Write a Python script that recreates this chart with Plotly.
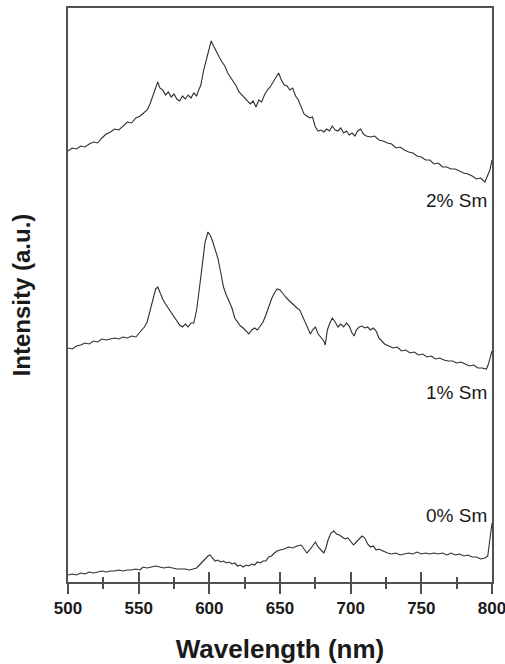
import plotly.graph_objects as go

# ---- data ----
wl_2 = [500,503,506,509,512,515,518,521,524,527,530,533,536,539,542,545,548,551,554,556,558,560,562,563.5,565,567,569,571,573,575,577,579,581,583,585,587,589,591,592.5,594,596,598,600,601.3,603,605,607,609,611,613,615,617,619,621,623,625,627,629,631,633,635,637,639,641,643,645,647,649,651,653,655,657,659,661,663,665,667,669,671,673,675,677,679,681,683,685,687,689,691,693,695,697,699,701,703,705,707,709,711,714,717,720,723,726,729,732,735,738,741,744,747,750,753,756,759,762,765,768,771,774,777,780,783,786,789,792,795,797,798.5,800]
int_2 = [431,434,433,436,435,438,440,439,444,448,450,453,452,456,460,459,464,466,470,472,478,486,496,500,494,492,487,490,485,488,483,481,486,483,487,484,489,486,492,497,512,524,534,541,536,530,525,520,516,509,505,500,496,490,487,484,480,478,481,475,482,480,487,492,495,500,504,509,502,497,496,492,494,486,482,474,468,466,464,465,455,451,452,450,453,451,456,452,451,454,449,451,447,449,446,451,453,448,446,445,446,442,441,439,438,434,435,432,430,429,426,425,422,422,418,419,415,415,413,413,411,409,408,406,403,404,400,406,412,422]

wl_1 = [500,503,506,509,512,515,518,521,524,527,530,533,536,539,542,545,548,550,552,554,556,558,560,562,563.5,565,567,569,571,573,575,577,579,581,583,585,587,589,591,593,595,597,599,600.5,602,604,606,608,610,612,614,616,618,620,622,624,626,628,630,632,634,636,638,640,642,644,646,648,650,652,654,656,658,660,662,664,666,668,670,671.5,673,675,677,679,681,682,683.5,685,687,689,691,693,695,697,699,701,702.5,704,706,708,710,712,714,716,718,720,722,724,727,730,733,736,739,742,745,748,751,754,757,760,763,766,769,772,775,778,781,784,787,790,793,796,797.5,799,800]
int_1 = [234,233,236,237,239,238,241,240,243,242,243,244,243,245,244,246,245,248,251,255,260,272,284,293,295,289,283,278,274,269,266,262,257,255,258,255,259,259,272,294,320,340,350,347,342,334,324,310,295,287,280,274,264,260,256,254,251,248,252,254,252,256,260,267,276,283,289,293,292,288,285,282,279,277,274,272,266,260,254,248,252,255,248,244,241,237,252,258,264,260,255,258,255,259,256,249,246,252,255,256,254,255,252,254,251,244,241,238,236,234,235,231,232,229,230,227,228,225,226,223,224,222,221,221,219,220,218,216,217,214,214,213,218,227,231]

wl_0 = [500,503,506,509,512,515,518,521,524,527,530,533,536,539,542,545,548,551,553,556,559,562,565,568,571,574,577,580,583,586,589,591,593,595,597,599,600.5,602,604,606,608,610,612,614,616,618,620,622,624,626,628,630,632,634,636,638,640,642,644,646,648,650,653,656,659,662,665,667,669,671,673,675,677,679,681,682.5,684,686,688,690,692,694,696,698,700,702,704,706,708,710,712,714,716,718,720,723,726,729,732,735,738,741,744,747,750,753,756,759,762,765,768,771,774,777,780,783,786,789,792,795,797,798.5,800]
int_0 = [7,8,7,9,8,10,9,10,11,10,11,11,12,11,12,12,13,12,15,14,15,16,15,14,15,14,13,13,13,12,13,14,17,20,23,26,27,24,21,22,20,21,19,20,18,19,16,17,15,17,16,18,17,20,19,21,21,25,26,29,31,32,33,35,34,36,37,33,29,32,36,40,35,32,29,34,42,49,51,48,47,45,43,44,40,37,40,43,46,44,38,35,36,32,33,31,29,28,29,27,28,29,28,30,28,29,28,29,28,29,27,29,27,28,26,27,25,25,23,24,26,42,59]

series_labels = ["2% Sm", "1% Sm", "0% Sm"]
label_y = [382, 190, 67]
x_ticks = [500, 550, 600, 650, 700, 750, 800]

FONT = "Arial, Liberation Sans, Helvetica, sans-serif"
LINE_C = "#2e2e2e"
AX_C = "#505050"

fig = go.Figure()
for wl, it, name in [(wl_2, int_2, series_labels[0]), (wl_1, int_1, series_labels[1]), (wl_0, int_0, series_labels[2])]:
    fig.add_trace(go.Scatter(x=wl, y=it, mode="lines", name=name,
                             line=dict(color=LINE_C, width=1.1), showlegend=False))

# invisible trace on the overlay axis so that inside ticks are drawn
fig.add_trace(go.Scatter(x=[500, 800], y=[None, None], xaxis="x2", yaxis="y",
                         mode="lines", showlegend=False, hoverinfo="skip"))

for lab, ly in zip(series_labels, label_y):
    fig.add_annotation(x=800, y=ly, xref="x", yref="y", text=lab, showarrow=False,
                       xanchor="right", yanchor="middle", xshift=-3,
                       font=dict(family=FONT, size=19, color="#1a1a1a"))

fig.update_layout(
    width=505, height=664,
    margin=dict(l=68, r=13, t=8, b=82, autoexpand=False),
    paper_bgcolor="white", plot_bgcolor="white",
    font=dict(family=FONT, color="#1a1a1a"),
    xaxis=dict(range=[500, 800], tickvals=x_ticks, ticks="outside", ticklen=10,
               tickwidth=1.5, tickcolor=AX_C, ticklabeloverflow="allow", automargin=False,
               minor=dict(ticks="outside", ticklen=5, dtick=25, tick0=500, tickcolor=AX_C, tickwidth=1.5),
               showline=True, linecolor=AX_C, linewidth=2, mirror=True,
               showgrid=False, zeroline=False,
               tickfont=dict(family=FONT, size=17, color="#1a1a1a", weight="bold"),
               title=dict(text="<b>Wavelength (nm)</b>", font=dict(family=FONT, size=26, color="#1a1a1a"),
                          standoff=23)),
    xaxis2=dict(range=[500, 800], overlaying="x", side="bottom", tickvals=x_ticks,
                ticks="inside", ticklen=10, tickwidth=1.5, tickcolor=AX_C, automargin=False,
                minor=dict(ticks="inside", ticklen=5, dtick=25, tick0=500, tickcolor=AX_C, tickwidth=1.5),
                showticklabels=False, showgrid=False, zeroline=False, showline=False),
    yaxis=dict(range=[0, 574], showticklabels=False, ticks="", showgrid=False, zeroline=False,
               showline=True, linecolor=AX_C, linewidth=2, mirror=True, automargin=False,
               title=dict(text="<b>Intensity (a.u.)</b>", font=dict(family=FONT, size=24, color="#1a1a1a"),
                          standoff=29)),
)

fig.write_html("out.html")
